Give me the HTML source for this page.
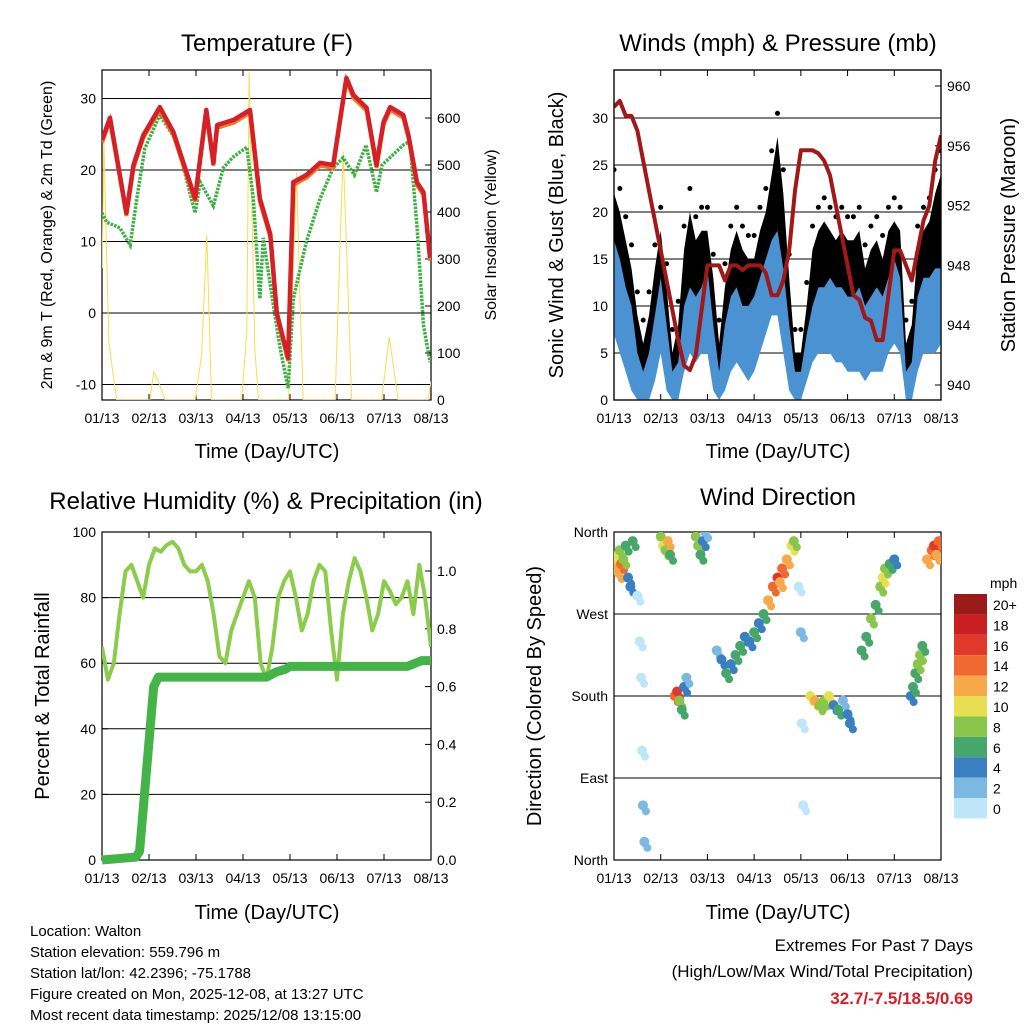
<!DOCTYPE html>
<html><head><meta charset="utf-8"><style>
html,body{margin:0;padding:0;background:#fff}
svg{display:block;font-family:"Liberation Sans",Arial,sans-serif}
</style></head><body>
<svg id="c" width="1024" height="1024" xmlns="http://www.w3.org/2000/svg"></svg>
<script>
// ---------- DATA ----------
const xTicks = ["01/13","02/13","03/13","04/13","05/13","06/13","07/13","08/13"];
const tempTime = [0,0.17,0.52,0.67,0.88,1.23,1.52,1.98,2.22,2.37,2.45,2.8,3.15,3.36,3.58,3.72,3.96,4.07,4.35,4.64,4.92,5.2,5.35,5.63,5.84,5.99,6.13,6.41,6.52,6.7,6.84,6.98];
const tempVals = [24.2,27.3,14,20.7,24.9,28.8,25.3,16,28.4,21,26.3,27,28.4,16,11,0,-6.3,18.3,19.3,21,20.7,32.9,30.5,28.7,20.7,26.7,28.8,27.7,24.9,18.3,16.9,7.7];
const dewTime = [0,0.1,0.38,0.6,0.74,0.91,1.23,1.59,1.98,2.09,2.37,2.58,2.79,3.08,3.22,3.36,3.43,3.65,3.79,3.96,4.07,4.35,4.64,4.92,5.13,5.37,5.62,5.84,5.96,6.41,6.55,6.7,6.84,6.98];
const dewVals = [14,12.7,11.9,9.5,16,23,27.7,24,14,18.3,15,20.3,21.8,23.2,16,2,10.5,1,-4.9,-10.5,2,10,16,20.3,21.7,19.3,23.5,16.9,20.7,23.5,24,12.3,-1.7,-6.9];
const solarTime = [0,0.04,0.1,0.15,0.31,1.02,1.1,1.2,1.34,1.98,2.12,2.23,2.33,2.97,3.08,3.13,3.25,3.33,3.97,4.14,4.21,4.28,4.96,5.13,5.24,5.31,5.95,6.11,6.23,6.3,6.94,7];
const solarVals = [280,550,300,120,0,0,60,40,0,0,96,351,0,0,145,698,110,0,0,485,217,0,0,528,217,0,0,134,52,0,0,40];
const windLo = [8,6,4,2,0,0,1,3, 6,2,0,0,4,6,5,6, 6,2,0,2,4,5,4,3, 4,6,8,10,10,6,2,0, 0,3,5,6,6,6,5,5, 4,4,4,3,4,4,4,6, 7,6,0,0,4,6,6,6, 7];
const windHi = [17,15,12,10,5,3,5,9, 13,8,3,4,10,12,11,12, 14,8,3,8,11,12,10,10, 11,13,15,17,18,14,8,3, 3,7,10,12,12,13,12,12, 11,11,12,10,11,12,11,13, 15,13,3,4,11,13,13,14, 14];
const gust = [22,20,17,14,9,6,9,14, 18,12,5,8,16,20,17,18, 18,13,6,12,16,18,16,15, 15,18,20,24,28,22,13,5, 5,10,16,18,19,18,17,18, 17,17,18,14,16,17,15,18, 19,18,6,8,16,18,19,22, 24];
const pressure = [958.6,959,958,958,957,955,953,951, 949,947,945,943,941.3,941,942,945, 948,948,948,947,948,948,947.7,948, 948,948,947.5,946,946,947,949,953, 955.7,955.7,955.7,955.5,955,954,952,950, 948,946,945.7,944.5,944.3,943,943,946, 949,949,948,947,949,951,952,955, 956.7];
const rh = [65,55,60,75,88,90,85,80, 90,95,94,96,97,95,90,88, 88,90,85,75,62,60,70,75, 80,85,80,60,55,65,80,85, 88,80,70,75,85,90,88,70, 55,75,85,92,88,80,70,75, 85,82,78,80,85,75,90,80, 65];
const precipTime = [0,0.72,0.8,1.1,1.2,3.5,3.7,3.9,4.0,6.5,6.8,7];
const precipVals = [0,0.01,0.03,0.6,0.633,0.633,0.65,0.66,0.67,0.67,0.69,0.69];
const wdTime = [0.02,0.05,0.08,0.1,0.12,0.15,0.2,0.25,0.3,0.35,0.4,0.5,0.55,0.58,0.6,0.62,0.65,1.0,1.05,1.1,1.15,1.2,1.3,1.35,1.4,1.45,1.5,1.55,1.75,1.8,1.85,1.9,1.95,2.2,2.3,2.4,2.5,2.6,2.7,2.8,2.9,3.0,3.1,3.2,3.3,3.4,3.5,3.55,3.6,3.7,3.8,3.85,3.95,4.0,4.02,4.05,4.2,4.3,4.4,4.5,4.6,4.7,4.8,4.9,5.0,5.05,5.3,5.4,5.5,5.6,5.7,5.75,5.8,5.9,6.0,6.35,6.4,6.45,6.5,6.55,6.6,6.7,6.8,6.85,6.9,6.95];
const wdDir = [330,320,335,315,340,325,330,345,310,300,350,290,240,200,120,60,20,355,345,340,350,335,180,185,175,165,190,200,355,345,335,350,360,230,220,205,215,225,235,245,240,250,260,270,285,300,310,305,320,330,345,350,300,250,150,60,180,175,170,175,180,170,165,175,160,150,230,245,265,280,300,310,320,325,330,180,190,205,215,225,235,330,340,345,335,350];
const wdSpeed = [10,12,11,13,9,14,8,7,5,4,6,1,0,1,1,2,3,9,10,8,12,7,14,16,8,6,5,3,8,9,6,4,3,3,4,6,5,7,6,5,4,6,5,7,12,14,16,13,14,12,10,8,1,2,1,1,10,12,9,8,10,4,6,3,5,4,6,7,8,6,9,10,8,6,4,4,6,7,8,9,6,12,14,16,12,14];
const cbLabels = ["20+","18","16","14","12","10","8","6","4","2","0"];
const cbColors = ["#9b1a1a","#c81f22","#e0392a","#ef6a30","#f7a848","#e6df52","#8bc64c","#47a66a","#3a7fc1","#7bb8e2","#bfe6f8"];

// ---------- HELPERS ----------
const svg = document.getElementById('c');
const NS = "http://www.w3.org/2000/svg";
function mk(tag, attrs, parent){const e=document.createElementNS(NS,tag);for(const k in attrs)e.setAttribute(k,attrs[k]);(parent||svg).appendChild(e);return e;}
function txt(s,attrs){const e=mk('text',attrs);e.textContent=s;return e;}
function lin(a,b,c,d){return v=>c+(v-a)*(d-c)/(b-a);}
function speedColor(s){const idx=Math.min(10,Math.floor(s/2));return cbColors[10-idx];}

function frame(name,x0,x1,y0,y1,leftTicks,rightTicks,yL,yR){
  const g=mk('g',{});
  
  
  leftTicks.forEach(v=>{const y=yL(v.v);if(v.grid)mk('line',{x1:x0,x2:x1,y1:y,y2:y,stroke:'#000','stroke-width':1},g);
    mk('line',{x1:x0,x2:x0+6,y1:y,y2:y,stroke:'#000'},g);
    const t=txt(v.l,{x:x0-6,y:y+5,'text-anchor':'end','font-size':14});});
  rightTicks.forEach(v=>{const y=yR(v.v);mk('line',{x1:x1-6,x2:x1,y1:y,y2:y,stroke:'#000'},g);
    const t=txt(v.l,{x:x1+6,y:y+5,'text-anchor':'start','font-size':14});});
  const xs=lin(0,7,x0,x1);
  xTicks.forEach((l,i)=>{const x=xs(i);mk('line',{x1:x,x2:x,y1:y1,y2:y1-6,stroke:'#000'},g);mk('line',{x1:x,x2:x,y1:y0,y2:y0+6,stroke:'#000'},g);
    const t=txt(l,{x:x,y:y1+23,'text-anchor':'middle','font-size':14});});
  const r=mk('rect',{x:x0,y:y0,width:x1-x0,height:y1-y0,fill:'none',stroke:'#000','stroke-width':1.2});
  
  
  return xs;
}
function pathD(ts,vs,xs,ys){return ts.map((t,i)=>(i?'L':'M')+xs(t).toFixed(1)+','+ys(vs[i]).toFixed(1)).join('');}
const uniT = windLo.map((_,i)=>i/8);

// ---------- PANEL 1: TEMPERATURE ----------
{
 const x0=102,x1=431,y0=70,y1=400;
 const yT=lin(0,10,313,241.5), yS=lin(0,600,400,118);
 const cp=mk('clipPath',{id:'cp1'});mk('rect',{x:x0,y:y0,width:x1-x0,height:y1-y0},cp);
 const xs=frame('temperature',x0,x1,y0,y1,[30,20,10,0,-10].map(v=>({v,l:String(v),grid:true})),[600,500,400,300,200,100,0].map(v=>({v,l:String(v)})),yT,yS);
 const s=mk('path',{d:pathD(solarTime,solarVals,xs,yS),fill:'none',stroke:'#f8dc50','stroke-width':1,'clip-path':'url(#cp1)'});
 
 const d=mk('path',{d:pathD(dewTime,dewVals,xs,yT),fill:'none',stroke:'#3cb043','stroke-width':3.5,'stroke-dasharray':'2.5 1.2','clip-path':'url(#cp1)'});
 
 const o=mk('path',{d:pathD(tempTime,tempVals.map(v=>v-0.4),xs,yT),fill:'none',stroke:'#f07828','stroke-width':4,'clip-path':'url(#cp1)'});
 
 const r=mk('path',{d:pathD(tempTime,tempVals,xs,yT),fill:'none',stroke:'#d42026','stroke-width':4.5,'stroke-linejoin':'round','clip-path':'url(#cp1)'});
 
 let t=txt('Temperature (F)',{x:267,y:51,'text-anchor':'middle','font-size':24});
 t=txt('Time (Day/UTC)',{x:267,y:458,'text-anchor':'middle','font-size':20});
 t=txt('2m & 9m T (Red, Orange) & 2m Td (Green)',{x:0,y:0,'text-anchor':'middle','font-size':16,transform:'translate(52,235) rotate(-90)'});
 t=txt('Solar Insolation (Yellow)',{x:0,y:0,'text-anchor':'middle','font-size':16,transform:'translate(496,235) rotate(-90)'});
}

// ---------- PANEL 2: WINDS ----------
{
 const x0=614,x1=941,y0=70,y1=400;
 const yW=lin(0,30,400,118), yP=lin(940,960,385,86);
 const cp=mk('clipPath',{id:'cp2'});mk('rect',{x:x0,y:y0,width:x1-x0,height:y1-y0},cp);
 const xs=frame('winds',x0,x1,y0,y1,[30,25,20,15,10,5,0].map(v=>({v,l:String(v),grid:true})),[960,956,952,948,944,940].map(v=>({v,l:String(v)})),yW,yP);
 const top=uniT.map((t,i)=>xs(t).toFixed(1)+','+yW(gust[i]).toFixed(1));
 const bot=uniT.map((t,i)=>xs(t).toFixed(1)+','+yW(windLo[i]).toFixed(1)).reverse();
 const b=mk('polygon',{points:top.concat(bot).join(' '),fill:'#000','clip-path':'url(#cp2)'});
 
 uniT.forEach((t,i)=>{const c=mk('circle',{cx:xs(t),cy:yW(gust[i]+2.5),r:2.5,fill:'#000','clip-path':'url(#cp2)'});
  
  });
 const hi=uniT.map((t,i)=>xs(t).toFixed(1)+','+yW(windHi[i]).toFixed(1));
 const lo=uniT.map((t,i)=>xs(t).toFixed(1)+','+yW(Math.max(0,windLo[i]-1)).toFixed(1)).reverse();
 const w=mk('polygon',{points:hi.concat(lo).join(' '),fill:'#4a92d2','clip-path':'url(#cp2)'});
 
 const p=mk('path',{d:pathD(uniT,pressure,xs,yP),fill:'none',stroke:'#a01818','stroke-width':4,'stroke-linejoin':'round','clip-path':'url(#cp2)'});
 
 mk('rect',{x:x0,y:y0,width:x1-x0,height:y1-y0,fill:'none',stroke:'#000','stroke-width':1.2});
 let t=txt('Winds (mph) & Pressure (mb)',{x:778,y:51,'text-anchor':'middle','font-size':24});
 t=txt('Time (Day/UTC)',{x:778,y:458,'text-anchor':'middle','font-size':20});
 t=txt('Sonic Wind & Gust (Blue, Black)',{x:0,y:0,'text-anchor':'middle','font-size':20,transform:'translate(563,235) rotate(-90)'});
 t=txt('Station Pressure (Maroon)',{x:0,y:0,'text-anchor':'middle','font-size':20,transform:'translate(1015,235) rotate(-90)'});
}

// ---------- PANEL 3: RH & PRECIP ----------
{
 const x0=102,x1=431,y0=532,y1=860;
 const yH=lin(0,100,860,532), yR=lin(0,1,860,571);
 const cp=mk('clipPath',{id:'cp3'});mk('rect',{x:x0,y:y0,width:x1-x0,height:y1-y0},cp);
 const xs=frame('humidity',x0,x1,y0,y1,[100,80,60,40,20,0].map(v=>({v,l:String(v),grid:true})),[1.0,0.8,0.6,0.4,0.2,0.0].map(v=>({v,l:v.toFixed(1)})),yH,yR);
 const h=mk('path',{d:pathD(uniT,rh,xs,yH),fill:'none',stroke:'#8ccc4c','stroke-width':4,'stroke-linejoin':'round','clip-path':'url(#cp3)'});
 
 const p=mk('path',{d:pathD(precipTime,precipVals,xs,yR),fill:'none',stroke:'#44b448','stroke-width':9,'stroke-linejoin':'round'});
 
 let t=txt('Relative Humidity (%) & Precipitation (in)',{x:266,y:509,'text-anchor':'middle','font-size':24});
 t=txt('Time (Day/UTC)',{x:267,y:919,'text-anchor':'middle','font-size':20});
 t=txt('Percent & Total Rainfall',{x:0,y:0,'text-anchor':'middle','font-size':20,transform:'translate(49,696) rotate(-90)'});
}

// ---------- PANEL 4: WIND DIRECTION ----------
{
 const x0=614,x1=941,y0=532,y1=860;
 const yD=lin(0,360,860,532);
 const cp=mk('clipPath',{id:'cp4'});mk('rect',{x:x0,y:y0,width:x1-x0,height:y1-y0},cp);
 const xs=frame('wind-direction',x0,x1,y0,y1,[{v:360,l:'North'},{v:270,l:'West'},{v:180,l:'South'},{v:90,l:'East'},{v:0,l:'North'}].map(o=>({v:o.v,l:o.l,grid:true})),[],yD,yD);
 wdTime.forEach((t,i)=>{
  const c=mk('circle',{cx:xs(t),cy:yD(wdDir[i]),r:5,fill:speedColor(wdSpeed[i]),'clip-path':'url(#cp4)'});
  
  
  const c2=mk('circle',{cx:xs(t)+3,cy:yD(wdDir[i])+6,r:4,fill:speedColor(wdSpeed[i]),'clip-path':'url(#cp4)'});
  
  
 });
 let t=txt('Wind Direction',{x:778,y:505,'text-anchor':'middle','font-size':24});
 t=txt('Time (Day/UTC)',{x:778,y:919,'text-anchor':'middle','font-size':20});
 t=txt('Direction (Colored By Speed)',{x:0,y:0,'text-anchor':'middle','font-size':20,transform:'translate(541,696) rotate(-90)'});
 t=txt('mph',{x:990,y:588,'text-anchor':'start','font-size':14});
 cbColors.forEach((c,i)=>{const y=594+i*20.4;
  const r=mk('rect',{x:954,y:y,width:33,height:20.4,fill:c});
  
  
  const l=txt(cbLabels[i],{x:993,y:y+16,'font-size':14});
  
  });
}

// ---------- FOOTER ----------
{
 const lines=["Location: Walton","Station elevation: 559.796 m","Station lat/lon: 42.2396; -75.1788","Figure created on Mon, 2025-12-08, at 13:27 UTC","Most recent data timestamp: 2025/12/08 13:15:00"];
 lines.forEach((s,i)=>{const t=txt(s,{x:30,y:936+i*21,'font-size':15});});
 let t=txt('Extremes For Past 7 Days',{x:973,y:951,'text-anchor':'end','font-size':17});
 t=txt('(High/Low/Max Wind/Total Precipitation)',{x:973,y:977,'text-anchor':'end','font-size':17});
 t=txt('32.7/-7.5/18.5/0.69',{x:973,y:1004,'text-anchor':'end','font-size':17,'font-weight':'bold',fill:'#d42026'});
}
</script>
</body></html>
